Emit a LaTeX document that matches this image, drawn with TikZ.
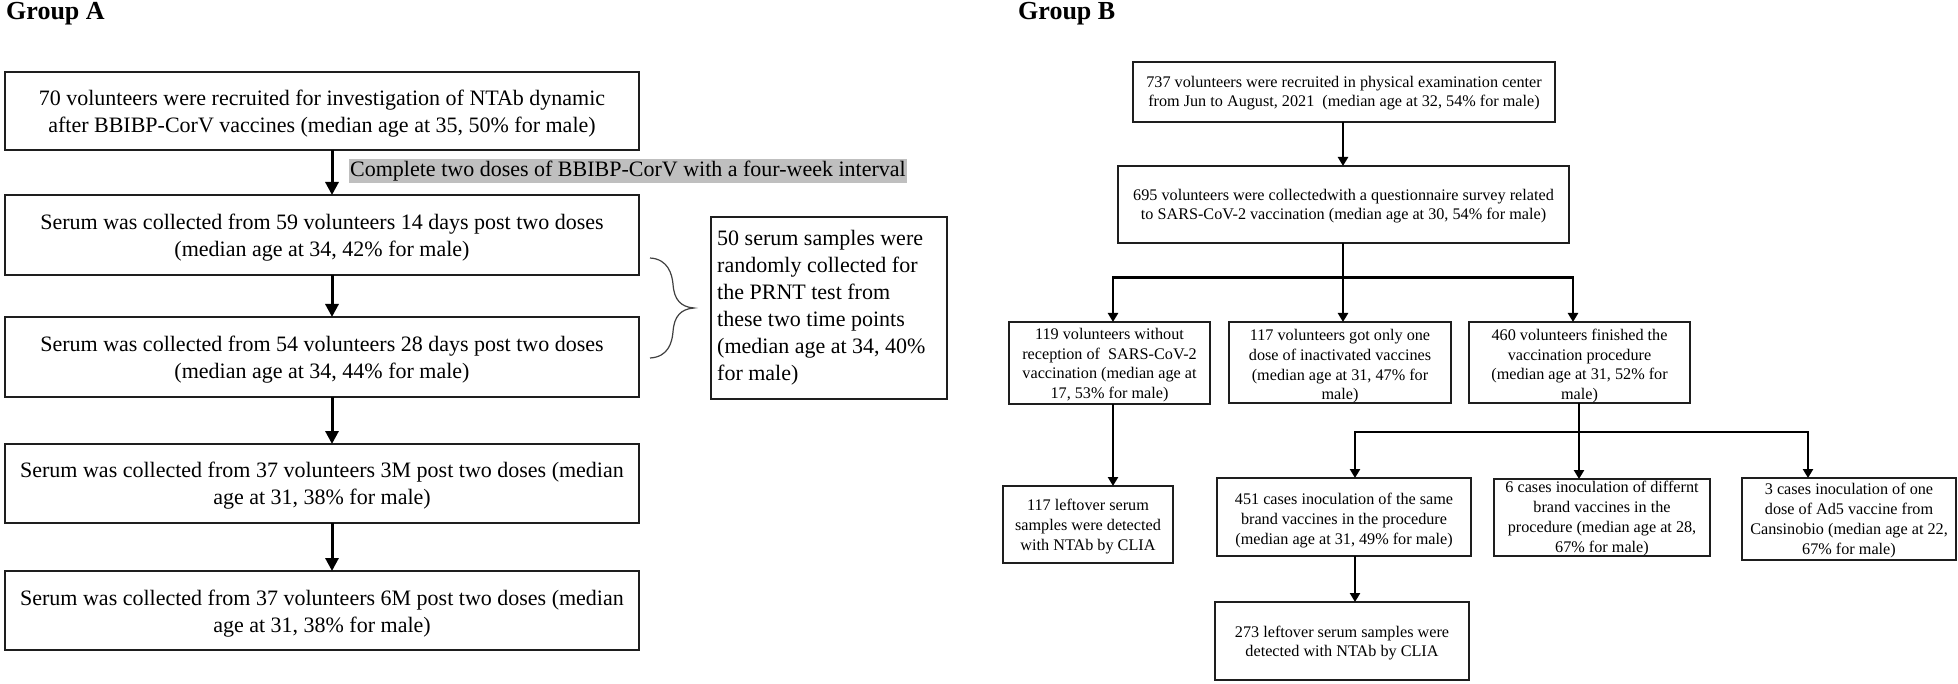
\documentclass[tikz,border=0pt]{standalone}
\usepackage{fontspec}
\setmainfont{Liberation Serif}
\usetikzlibrary{arrows.meta}
\definecolor{lblgray}{RGB}{191,191,191}
\definecolor{ink}{RGB}{30,30,30}
\tikzset{
  boxA/.style={draw=ink, line width=2pt, inner sep=0pt, outer sep=0pt, rectangle},
  txtA/.style={font={\fontsize{22}{27}\selectfont}, align=center, inner sep=0pt},
  txtB/.style={font={\fontsize{16.2}{19.7}\selectfont}, align=center, inner sep=0pt},
  arrA/.style={draw=black, line width=3pt, -{Triangle[width=13pt,length=13pt]}},
  arrB/.style={draw=black, line width=2.5pt, -{Triangle[width=10pt,length=9pt]}},
  barB/.style={draw=black, line width=2.5pt},
  grouptitle/.style={font={\fontsize{26}{30}\selectfont\bfseries}, anchor=base west, inner sep=0pt},
}
\begin{document}
\begin{tikzpicture}[x=1pt,y=-1pt]
\fill[white] (0,0) rectangle (1958,684);
\useasboundingbox (0,0) rectangle (1958,684);

% titles
\node[grouptitle] (ta) at (6,20) {Group A};
\node[grouptitle] (tb) at (1018,20) {Group B};

% ---------------- Group A ----------------
\coordinate (ax) at (332,0);
\node[boxA, minimum width=634pt, minimum height=78pt] (a1) at (322,111) {};
\node[txtA] (a1t) at (322,113.5)
  {70 volunteers were recruited for investigation of NTAb dynamic\\after BBIBP-CorV vaccines (median age at 35, 50\% for male)};
\node[boxA, minimum width=634pt, minimum height=80pt] (a2) at (322,235) {};
\node[txtA] (a2t) at (322,237.5)
  {Serum was collected from 59 volunteers 14 days post two doses\\(median age at 34, 42\% for male)};
\node[boxA, minimum width=634pt, minimum height=80pt] (a3) at (322,357) {};
\node[txtA] (a3t) at (322,359.5)
  {Serum was collected from 54 volunteers 28 days post two doses\\(median age at 34, 44\% for male)};
\node[boxA, minimum width=634pt, minimum height=79pt] (a4) at (322,483.5) {};
\node[txtA] (a4t) at (322,486)
  {Serum was collected from 37 volunteers 3M post two doses (median\\age at 31, 38\% for male)};
\node[boxA, minimum width=634pt, minimum height=79pt] (a5) at (322,610.5) {};
\node[txtA] (a5t) at (322,613.5)
  {Serum was collected from 37 volunteers 6M post two doses (median\\age at 31, 38\% for male)};

\node[txtA, fill=lblgray, inner xsep=1pt, inner ysep=0pt, minimum height=24pt, anchor=west] (lab) at (349,171.5)
  {Complete two doses of BBIBP-CorV with a four-week interval};

\draw[arrA] (a1.south -| ax) -- (a2.north -| ax);
\draw[arrA] (a2.south -| ax) -- (a3.north -| ax);
\draw[arrA] (a3.south -| ax) -- (a4.north -| ax);
\draw[arrA] (a4.south -| ax) -- (a5.north -| ax);

% brace
\draw[line width=1.2pt, draw=black!75]
  (650,258) .. controls (668,259) and (672,274) .. (673,284)
  .. controls (674,300) and (681,307) .. (694,308)
  .. controls (681,309) and (674,316) .. (673,332)
  .. controls (672,343) and (668,357) .. (650,358);

\node[boxA, minimum width=236pt, minimum height=182pt] (prnt) at (828.5,308) {};
\node[txtA, align=left, anchor=west] (prntt) at (717,307.5)
  {50 serum samples were\\randomly collected for\\the PRNT test from\\these two time points\\(median age at 34, 40\%\\for male)};

% ---------------- Group B ----------------
\node[boxA, minimum width=422pt, minimum height=60pt] (b1) at (1344,92) {};
\node[txtB] (b1t) at (1344,93)
  {737 volunteers were recruited in physical examination center\\from Jun to August, 2021\ \ (median age at 32, 54\% for male)};
\node[boxA, minimum width=451pt, minimum height=77pt] (b2) at (1343.5,204.5) {};
\node[txtB] (b2t) at (1343.5,206)
  {695 volunteers were collectedwith a questionnaire survey related\\to SARS-CoV-2 vaccination (median age at 30, 54\% for male)};

\node[boxA, minimum width=201pt, minimum height=82pt] (b3) at (1109.5,363) {};
\node[txtB] (b3t) at (1109.5,365)
  {119 volunteers without\\reception of\ \ SARS-CoV-2\\vaccination (median age at\\17, 53\% for male)};
\node[boxA, minimum width=222pt, minimum height=81pt] (b4) at (1340,362.5) {};
\node[txtB] (b4t) at (1340,366.5)
  {117 volunteers got only one\\dose of inactivated vaccines\\(median age at 31, 47\% for\\male)};
\node[boxA, minimum width=221pt, minimum height=81pt] (b5) at (1579.5,362.5) {};
\node[txtB] (b5t) at (1579.5,366)
  {460 volunteers finished the\\vaccination procedure\\(median age at 31, 52\% for\\male)};

\node[boxA, minimum width=170pt, minimum height=77pt] (b6) at (1088,524.5) {};
\node[txtB] (b6t) at (1088,526.5)
  {117 leftover serum\\samples were detected\\with NTAb by CLIA};
\node[boxA, minimum width=254pt, minimum height=78pt] (b7) at (1344,517) {};
\node[txtB] (b7t) at (1344,520.5)
  {451 cases inoculation of the same\\brand vaccines in the procedure\\(median age at 31, 49\% for male)};
\node[boxA, minimum width=216pt, minimum height=77pt] (b8) at (1602,517.5) {};
\node[txtB] (b8t) at (1602,518.5)
  {6 cases inoculation of differnt\\brand vaccines in the\\procedure (median age at 28,\\67\% for male)};
\node[boxA, minimum width=214pt, minimum height=82pt] (b9) at (1849,519) {};
\node[txtB] (b9t) at (1849,520.5)
  {3 cases inoculation of one\\dose of Ad5 vaccine from\\Cansinobio (median age at 22,\\67\% for male)};
\node[boxA, minimum width=254pt, minimum height=78pt] (b10) at (1342,641) {};
\node[txtB] (b10t) at (1342,643)
  {273 leftover serum samples were\\detected with NTAb by CLIA};

% connectors B
\coordinate (j1) at (1343,277.5);
\coordinate (j1l) at (1113,277.5);
\coordinate (j1r) at (1573,277.5);
\draw[arrB] (b1.south -| j1) -- (b2.north -| j1);
\draw[arrB] (b2.south -| j1) -- (j1 |- b4.north);
\draw[arrB] (j1r) -- (j1l) -- (j1l |- b3.north);
\draw[arrB] (j1l) -- (j1r) -- (j1r |- b5.north);
\draw[arrB] (b3.south -| j1l) -- (j1l |- b6.north);

\coordinate (j2) at (1579,432);
\coordinate (j2l) at (1355,432);
\coordinate (j2r) at (1808,432);
\draw[barB] (b5.south -| j2) -- (j2);
\draw[arrB] (j2) -- (j2 |- b8.north);
\draw[arrB] (j2r) -- (j2l) -- (j2l |- b7.north);
\draw[arrB] (j2l) -- (j2r) -- (j2r |- b9.north);
\draw[arrB] (b7.south -| j2l) -- (j2l |- b10.north);
\end{tikzpicture}
\end{document}
